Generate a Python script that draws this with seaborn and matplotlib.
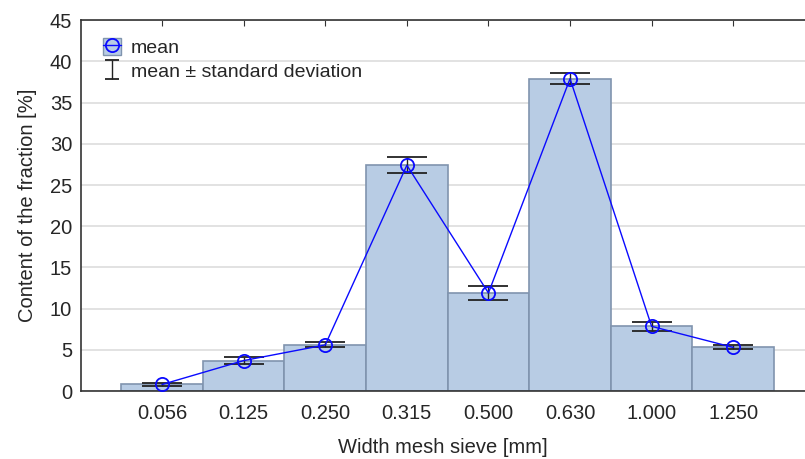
import matplotlib
matplotlib.use("Agg")
import matplotlib.pyplot as plt
import seaborn as sns
import pandas as pd
import numpy as np
from matplotlib.patches import Patch
from matplotlib.lines import Line2D

# values
sieves = ["0.056", "0.125", "0.250", "0.315", "0.500", "0.630", "1.000", "1.250"]
means = [0.8, 3.7, 5.6, 27.4, 11.9, 37.9, 7.85, 5.3]
stds = [0.15, 0.45, 0.3, 1.0, 0.9, 0.7, 0.55, 0.25]

df = pd.DataFrame({"sieve": sieves, "mean": means, "std": stds})

sns.set_style("white")
plt.rcParams["font.family"] = ["Liberation Sans", "DejaVu Sans"]

fig = plt.figure(figsize=(8.05, 4.59), dpi=100)
ax = fig.add_axes([0.1, 0.148, 0.9, 0.808])

bar_face = "#b8cce4"
bar_edge = "#8094ae"
blue = "#0a0aff"

sns.barplot(data=df, x="sieve", y="mean", width=1.0, color=bar_face,
            edgecolor=bar_edge, linewidth=1.2, saturation=1, errorbar=None,
            ax=ax, zorder=2)

xpos = list(range(len(sieves)))
ax.errorbar(xpos, df["mean"], yerr=df["std"], fmt="none", ecolor="#222222",
            elinewidth=1.0, capsize=14.5, capthick=1.3, zorder=3)
ax.plot(xpos, df["mean"], color=blue, lw=1.0, marker="o", ms=9.5,
        mfc="none", mec=blue, mew=1.3, zorder=4)

ax.set_xlim(-1, 7.88)
ax.set_ylim(0, 45)
ax.set_yticks(range(0, 50, 5))
ax.grid(axis="y", color="#dddddd", lw=1.2, zorder=0)
ax.set_axisbelow(True)

ax.spines["right"].set_visible(False)
for s in ["left", "top", "bottom"]:
    ax.spines[s].set_color("#333333")
    ax.spines[s].set_linewidth(1.2)

ax.tick_params(axis="x", direction="in", length=4, top=True, labeltop=False,
               labelsize=14.5, pad=9, color="#333333")
ax.tick_params(axis="y", length=0, labelsize=14.5, pad=6)

ax.set_xlabel("Width mesh sieve [mm]", fontsize=14.5, labelpad=11)
ax.set_ylabel("Content of the fraction [%]", fontsize=14.5, labelpad=9)

# legend handles: bar square with line+marker, and a small error bar symbol
mean_handle = (Patch(facecolor=bar_face, edgecolor=bar_edge),
               Line2D([], [], color=blue, lw=1.0, marker="o", ms=9.5,
                      mfc="none", mec=blue, mew=1.3))
eb_handle = ax.errorbar([np.nan], [np.nan], yerr=[1.0], fmt="none",
                        ecolor="#222222", elinewidth=1.0, capsize=5,
                        capthick=1.3)
ax.legend([mean_handle, eb_handle], ["mean", "mean ± standard deviation"],
          loc="upper left", bbox_to_anchor=(0.01, 0.995), frameon=False,
          fontsize=14, handlelength=0.9, handleheight=1.0, handletextpad=0.5,
          labelspacing=0.25, borderaxespad=0.4)

fig.savefig("out.png", dpi=100)
